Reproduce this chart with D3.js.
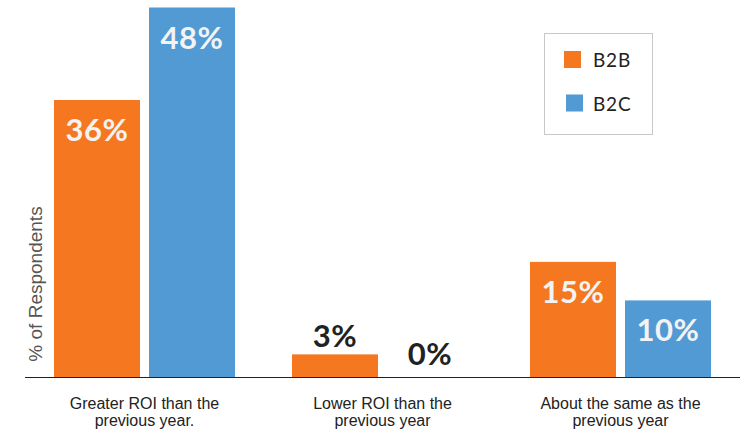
<!DOCTYPE html>
<html><head><meta charset="utf-8">
<script src="https://cdn.jsdelivr.net/npm/d3@7"></script>
<style>
html,body{margin:0;padding:0;background:#fff;}
svg{display:block;}
</style></head>
<body>
<svg id="chart" width="740" height="433"></svg>
<script>
const categories = [["Greater ROI than the","previous year."],["Lower ROI than the","previous year"],["About the same as the","previous year"]];
const categoryKeys = ["greater","lower","same"];
const seriesNames = ["B2B","B2C"];
const b2b = [36, 3, 15];
const b2c = [48, 0, 10];
const colors = ["#F57820", "#519AD3"];
const yTitle = "% of Respondents";

const svg = d3.select("#chart");
const baseY = 377.5, topY = 7.5, left = 25.5, right = 739.5;

const y = d3.scaleLinear().domain([0, d3.max(b2c.concat(b2b))]).range([baseY, topY]);
const x0 = d3.scaleBand().domain(categoryKeys).range([left, right]).padding(0);
const x1 = d3.scaleBand().domain(seriesNames).range([28.5, x0.bandwidth() - 28.5]).paddingInner(0.0947).paddingOuter(0);
const color = d3.scaleOrdinal().domain(seriesNames).range(colors);

const data = categoryKeys.map((k, i) => ({key: k, label: categories[i], values: [ {s: "B2B", v: b2b[i]}, {s: "B2C", v: b2c[i]} ]}));

const g = svg.append("g");
const groups = g.selectAll("g.cat").data(data).join("g").attr("class","cat")
  .attr("transform", d => `translate(${x0(d.key)},0)`);

groups.selectAll("rect").data(d => d.values).join("rect")
  .attr("x", d => x1(d.s)).attr("width", x1.bandwidth())
  .attr("y", d => y(d.v)).attr("height", d => baseY - y(d.v))
  .attr("fill", d => color(d.s));

const inside = d => (baseY - y(d.v)) > 60;
groups.selectAll("text.val").data(d => d.values).join("text").attr("class","val")
  .attr("x", d => x1(d.s) + x1.bandwidth()/2)
  .attr("y", d => inside(d) ? y(d.v) + 41 : y(d.v) - (d.v === 0 ? 12.5 : 7.5))
  .attr("text-anchor","middle")
  .attr("font-family","Lato, 'Open Sans', sans-serif").attr("font-weight","700").attr("font-size","31px")
  .attr("letter-spacing","0.5px")
  .attr("fill", d => inside(d) ? "#f3f3f3" : "#222")
  .text(d => d.v + "%");

// baseline
svg.append("line").attr("x1", 25).attr("x2", 740).attr("y1", baseY).attr("y2", baseY)
  .attr("stroke", "#222").attr("stroke-width", 1.2);

// category labels
const xAxisG = svg.append("g");
xAxisG.selectAll("text").data(data).join("text")
  .attr("x", d => x0(d.key) + x0.bandwidth()/2)
  .attr("y", 408.5)
  .attr("text-anchor","middle")
  .attr("font-family","'Liberation Sans', Arial, sans-serif").attr("font-size","16px").attr("fill","#222")
  .each(function(d){
    const t = d3.select(this);
    d.label.forEach((line, i) => {
      t.append("tspan").attr("x", x0(d.key) + x0.bandwidth()/2).attr("dy", i === 0 ? 0 : 17.5).text(line);
    });
  });

// y title
svg.append("text")
  .attr("transform", `translate(41.5,284) rotate(-90)`)
  .attr("text-anchor","middle")
  .attr("font-family","'Liberation Sans', Arial, sans-serif").attr("font-size","19px").attr("fill","#555")
  .text(yTitle);

// legend
const lg = svg.append("g");
lg.append("rect").attr("x", 544.5).attr("y", 33.5).attr("width", 108).attr("height", 101)
  .attr("fill","#fff").attr("stroke","#c8c8c8").attr("stroke-width",1);
const items = lg.selectAll("g.item").data(seriesNames).join("g").attr("class","item")
  .attr("transform", (d, i) => `translate(0, ${i * 43.5})`);
items.append("rect").attr("x", (d,i) => 564 + i*2).attr("y", 51).attr("width", 17).attr("height", 17)
  .attr("fill", d => color(d));
items.append("text").attr("x", 593).attr("y", 67).attr("font-family","Lato, sans-serif")
  .attr("font-size","19px").attr("letter-spacing","0.8px").attr("fill","#222").text(d => d);
</script>
</body></html>
